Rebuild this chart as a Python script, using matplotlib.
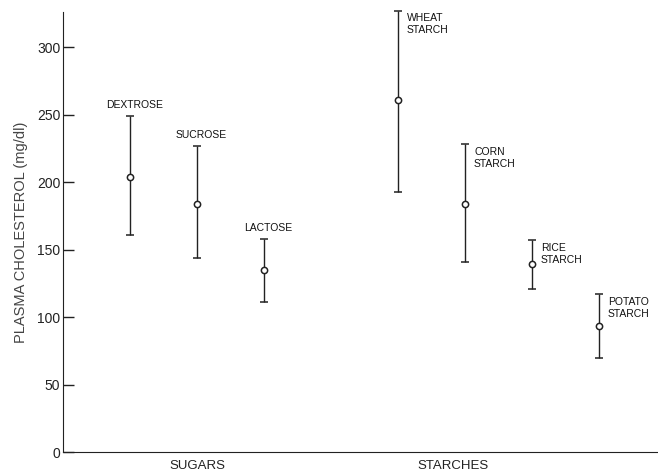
import matplotlib.pyplot as plt

# plasma cholesterol by dietary carbohydrate
names = ["DEXTROSE", "SUCROSE", "LACTOSE",
         "WHEAT\nSTARCH", "CORN\nSTARCH", "RICE\nSTARCH", "POTATO\nSTARCH"]
xpos = [1, 2, 3, 5, 6, 7, 8]
mean = [204, 184, 135, 261, 184, 139, 93]
low = [161, 144, 111, 193, 141, 121, 70]
high = [249, 227, 158, 327, 228, 157, 117]

groups = ["SUGARS", "STARCHES"]
group_x = [2, 5.82]

plt.rcParams['font.family'] = ['Liberation Sans', 'DejaVu Sans']

fig = plt.figure(figsize=(6.58, 4.75), dpi=100)
ax = fig.add_axes([0.0957, 0.0484, 0.9043, 0.9263])

err_lo = [m - l for m, l in zip(mean, low)]
err_hi = [h - m for m, h in zip(mean, high)]
ax.errorbar(xpos, mean, yerr=[err_lo, err_hi], fmt='o', color='#222222',
            mfc='white', mec='#222222', ms=4.5, mew=1.1, elinewidth=1,
            capsize=3, capthick=1, clip_on=False)

for i in range(len(names)):
    if i < 3:
        # sugars: label above the bar
        ax.annotate(names[i], (xpos[i], high[i]), xytext=(3, 4),
                    textcoords='offset points', ha='center', va='bottom',
                    fontsize=7.5, color='#111111', annotation_clip=False)
    else:
        # starches: label to the right, near the top
        ax.annotate(names[i], (xpos[i], high[i]), xytext=(6.5, -2),
                    textcoords='offset points', ha='left', va='top',
                    fontsize=7.5, color='#111111', linespacing=1.25,
                    annotation_clip=False)

for g, gx in zip(groups, group_x):
    ax.text(gx, -6, g, ha='center', va='top', fontsize=9.5, color='#222222')

ax.set_xlim(0, 8.88)
ax.set_ylim(0, 326)
ax.set_yticks([0, 50, 100, 150, 200, 250, 300])
ax.set_xticks([])
ax.tick_params(axis='y', direction='in', length=8, width=1, labelsize=10,
               pad=2, colors='#222222')
ax.spines['top'].set_visible(False)
ax.spines['right'].set_visible(False)
ax.spines['left'].set_color('#222222')
ax.spines['bottom'].set_color('#222222')
ax.set_ylabel("PLASMA CHOLESTEROL (mg/dl)", fontsize=10.5, color='#444444',
              labelpad=6)

plt.savefig("out.png", dpi=100)
